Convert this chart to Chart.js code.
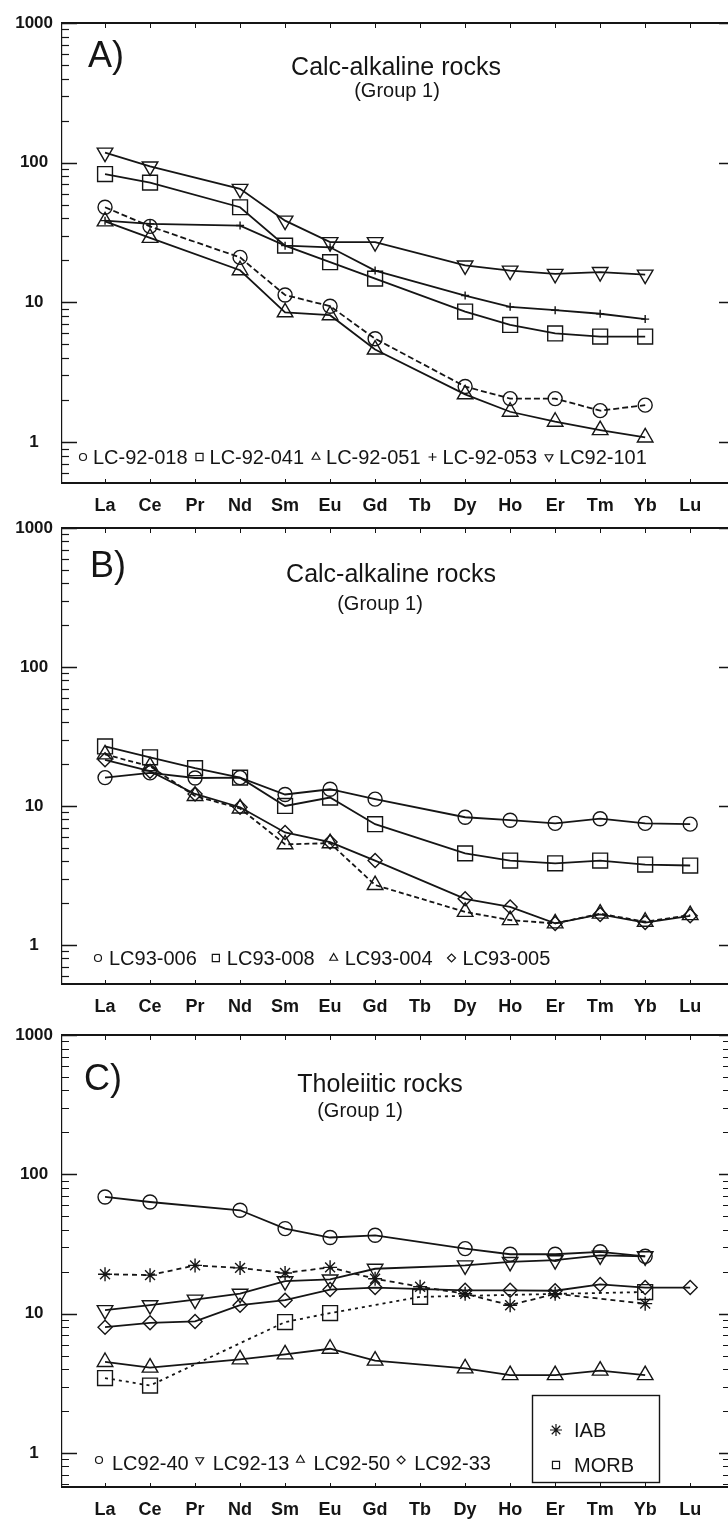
<!DOCTYPE html>
<html><head><meta charset="utf-8">
<script src="https://cdn.jsdelivr.net/npm/chart.js@4.4.1/dist/chart.umd.min.js"></script>
<style>
html,body{margin:0;padding:0;background:#fff;}
#wrap{position:relative;width:728px;height:1528px;overflow:hidden;background:#fff;}
canvas{position:absolute;left:0;}
</style></head><body>
<div id="wrap">
<canvas id="cA" width="728" height="515" style="top:0px"></canvas>
<canvas id="cB" width="728" height="515" style="top:505px"></canvas>
<canvas id="cC" width="728" height="518" style="top:1010px"></canvas>
</div>
<script>
// ---- categories ----
const elements = ['La','Ce','Pr','Nd','Sm','Eu','Gd','Tb','Dy','Ho','Er','Tm','Yb','Lu'];
const yTickLabels = ['1','10','100','1000'];

// ---- Panel A: Calc-alkaline rocks ----
const labelsA = ['LC-92-018','LC-92-041','LC-92-051','LC-92-053','LC92-101'];
const a_LC92_018 = [48, 35, null, 21, 11.3, 9.4, 5.5, null, 2.5, 2.05, 2.05, 1.68, 1.84, null];
const a_LC92_041 = [83, 72, null, 48, 25.5, 19.4, 14.8, null, 8.6, 6.9, 6.0, 5.7, 5.7, null];
const a_LC92_051 = [38, 29, null, 17, 8.5, 8.1, 4.6, null, 2.2, 1.65, 1.4, 1.22, 1.08, null];
const a_LC92_053 = [38.5, 36.5, null, 35.5, 25.5, 24.8, 16.9, null, 11.2, 9.3, 8.8, 8.3, 7.6, null];
const a_LC92_101 = [118, 94, null, 65, 38.5, 27, 27, null, 18.4, 16.9, 16, 16.5, 15.8, null];

// ---- Panel B: Calc-alkaline rocks ----
const labelsB = ['LC93-006','LC93-008','LC93-004','LC93-005'];
const b_LC93_006 = [16, 17.3, 15.9, 16, 12.1, 13.2, 11.2, null, 8.3, 7.9, 7.5, 8.1, 7.5, 7.4];
const b_LC93_008 = [26.8, 22.4, 18.7, 16, 10, 11.5, 7.4, null, 4.56, 4.05, 3.87, 4.05, 3.79, 3.73];
const b_LC93_004 = [23.5, 19.3, 11.8, 9.6, 5.3, 5.4, 2.7, null, 1.73, 1.51, 1.43, 1.68, 1.47, 1.64];
const b_LC93_005 = [21.5, 17.8, 12.2, 9.8, 6.45, 5.5, 4.05, null, 2.15, 1.88, 1.43, 1.66, 1.45, 1.62];

// ---- Panel C: Tholeiitic rocks ----
const labelsC = ['LC92-40','LC92-13','LC92-50','LC92-33'];
const refLabelsC = ['IAB','MORB'];
const c_LC92_40 = [68.8, 63.3, null, 55.2, 40.8, 35.2, 36.5, null, 29.3, 26.7, 26.7, 27.8, 25.8, null];
const c_LC92_13 = [10.6, 11.5, 12.6, 13.9, 17.1, 17.6, 21.0, null, 22.2, 23.5, 24.2, 26.2, 25.8, null];
const c_LC92_50 = [4.5, 4.1, null, 4.7, 5.1, 5.6, 4.6, null, 4.05, 3.62, 3.62, 3.9, 3.62, null];
const c_LC92_33 = [8.0, 8.6, 8.8, 11.5, 12.5, 14.9, 15.4, null, 14.7, 14.7, 14.6, 16.2, 15.4, 15.4];
const c_IAB     = [19.2, 18.9, 22.2, 21.3, 19.6, 21.5, 17.8, 15.6, 13.9, 11.5, 13.9, null, 11.8, null];
const c_MORB    = [3.45, 3.05, null, null, 8.7, 10.1, null, 13.2, null, null, null, null, 14.3, null];

const INK = '#151515';
const FONT = "'Liberation Sans', Arial, Helvetica, sans-serif";

const STY = {
  circle:  {pointStyle:'circle', pointRadius:7, pointRotation:0, legendR:3.5},
  square:  {pointStyle:'rect', pointRadius:10.5, pointRotation:0, legendR:5},
  tri:     {pointStyle:'triangle', pointRadius:9, pointRotation:0, legendR:4.5},
  itri:    {pointStyle:'triangle', pointRadius:9, pointRotation:180, legendR:4.5},
  plus:    {pointStyle:'cross', pointRadius:4, pointRotation:0, legendR:4},
  diamond: {pointStyle:'rectRot', pointRadius:7, pointRotation:0, legendR:4},
  star:    {pointStyle:'star', pointRadius:7, pointRotation:0, legendR:6},
};

function ds(label, arr, sty, dash) {
  const s = STY[sty];
  return {
    label,
    data: elements.map((e, i) => ({x: i, y: arr[i]})),
    borderColor: INK, borderWidth: 1.8, borderDash: dash || [],
    pointStyle: s.pointStyle, pointRadius: s.pointRadius, pointRotation: s.pointRotation,
    pointBorderColor: INK, pointBackgroundColor: 'rgba(0,0,0,0)', pointBorderWidth: 1.4,
    pointHoverRadius: s.pointRadius,
    spanGaps: true, tension: 0, fill: false, clip: false,
    _legendR: s.legendR
  };
}

const deco = {
  id: 'panelDeco',
  afterDraw(chart, args, o) {
    const ctx = chart.ctx, ca = chart.chartArea, xs = chart.scales.x, ys = chart.scales.y;
    ctx.save();
    ctx.strokeStyle = INK; ctx.fillStyle = INK;
    // top frame line
    ctx.lineWidth = 2;
    ctx.beginPath(); ctx.moveTo(ca.left, ca.top); ctx.lineTo(ca.right, ca.top); ctx.stroke();
    // category ticks on top and bottom
    ctx.lineWidth = 1;
    for (let i = 0; i < elements.length; i++) {
      const px = Math.round(xs.getPixelForValue(i)) + 0.5;
      ctx.beginPath();
      ctx.moveTo(px, ca.top); ctx.lineTo(px, ca.top + 5);
      ctx.moveTo(px, ca.bottom); ctx.lineTo(px, ca.bottom - 4);
      ctx.stroke();
    }
    // log ticks left (all) and right (major, optionally minor)
    for (let k = -1; k <= 3; k++) {
      for (let m = 1; m <= 9; m++) {
        const v = m * Math.pow(10, k);
        if (v < ys.min * 0.999 || v > ys.max * 1.001) continue;
        const py = Math.round(ys.getPixelForValue(v)) + 0.5;
        const major = m === 1;
        ctx.lineWidth = major ? 1.6 : 1.2;
        ctx.beginPath();
        ctx.moveTo(ca.left, py); ctx.lineTo(ca.left + (major ? 15 : 7), py);
        if (major || o.rightMinor) { ctx.moveTo(ca.right, py); ctx.lineTo(ca.right - (major ? 9 : 5), py); }
        ctx.stroke();
      }
    }
    // panel letter, title, subtitle
    ctx.textBaseline = 'alphabetic';
    ctx.textAlign = 'left';
    ctx.font = '36px ' + FONT;
    ctx.fillText(o.letter, o.letterPos[0], o.letterPos[1]);
    ctx.textAlign = 'center';
    ctx.font = '25px ' + FONT;
    ctx.fillText(o.title, o.titlePos[0], o.titlePos[1]);
    ctx.font = '20px ' + FONT;
    ctx.fillText(o.sub, o.subPos[0], o.subPos[1]);
    // in-plot legend of samples
    ctx.textAlign = 'left'; ctx.textBaseline = 'middle';
    ctx.font = '20px ' + FONT;
    let xText = o.legendStart;
    const dsets = chart.data.datasets.slice(0, o.legendCount);
    dsets.forEach(d => {
      ctx.lineWidth = 1.2;
      ctx.fillStyle = 'rgba(0,0,0,0)';
      Chart.helpers.drawPoint(ctx, {pointStyle: d.pointStyle, rotation: d.pointRotation, radius: d._legendR, borderWidth: 1.2}, xText - o.symOffset, o.legendY + (o.symDy || 0));
      ctx.fillStyle = INK;
      ctx.fillText(d.label, xText, o.legendY + 1);
      xText += ctx.measureText(d.label).width + o.legendGap;
    });
    // reference box (IAB / MORB)
    if (o.box) {
      const b = o.box;
      ctx.lineWidth = 1.4;
      ctx.strokeRect(b.x + 0.5, b.y + 0.5, b.w, b.h);
      const refs = chart.data.datasets.slice(o.legendCount);
      refs.forEach((d, j) => {
        const yy = b.rows[j];
        ctx.fillStyle = 'rgba(0,0,0,0)';
        ctx.lineWidth = 1.2;
        Chart.helpers.drawPoint(ctx, {pointStyle: d.pointStyle, rotation: 0, radius: d._legendR, borderWidth: 1.2}, b.symX, yy);
        ctx.fillStyle = INK;
        ctx.font = '20px ' + FONT;
        ctx.fillText(d.label, b.textX, yy + 1);
      });
    }
    ctx.restore();
  }
};

function makeChart(id, H, top, bottom, ymin, datasets, decoOpts) {
  const isDecade = v => Math.abs(Math.log10(v) - Math.round(Math.log10(v))) < 1e-6;
  return new Chart(document.getElementById(id), {
    type: 'line',
    data: {datasets},
    options: {
      responsive: false, animation: false, devicePixelRatio: 1,
      events: [],
      layout: {autoPadding: false, padding: {top: top, left: 0, right: 0, bottom: 0}},
      plugins: {legend: {display: false}, tooltip: {enabled: false}, title: {display: false}, panelDeco: decoOpts},
      scales: {
        x: {
          type: 'linear', min: -0.956, max: 13.84, position: 'bottom',
          afterFit: s => { s.height = H - bottom; },
          grid: {display: false, drawTicks: true, tickLength: 12},
          border: {display: true, width: 2, color: INK},
          ticks: {
            stepSize: 1, includeBounds: false, autoSkip: false, maxRotation: 0, minRotation: 0,
            padding: 0, color: INK, font: {family: FONT, size: 18, weight: 'bold'},
            callback: v => (Number.isInteger(v) && v >= 0 && v < elements.length) ? elements[v] : ''
          }
        },
        y: {
          type: 'logarithmic', min: ymin, max: 1000, position: 'left',
          afterFit: s => { s.width = 62; },
          grid: {display: false, drawTicks: false},
          border: {display: true, width: 1.2, color: INK},
          ticks: {
            autoSkip: false, crossAlign: 'center', padding: 9, color: INK,
            font: {family: FONT, size: 17, weight: 'bold'},
            callback: v => (isDecade(v) && yTickLabels.includes(String(Math.round(v)))) ? String(Math.round(v)) : ''
          }
        }
      }
    },
    plugins: [deco]
  });
}

makeChart('cA', 515, 23, 483, 0.51, [
  ds(labelsA[0], a_LC92_018, 'circle', [6, 3]),
  ds(labelsA[1], a_LC92_041, 'square'),
  ds(labelsA[2], a_LC92_051, 'tri'),
  ds(labelsA[3], a_LC92_053, 'plus'),
  ds(labelsA[4], a_LC92_101, 'itri'),
], {letter: 'A)', letterPos: [88, 67], title: 'Calc-alkaline rocks', titlePos: [396, 75],
    sub: '(Group 1)', subPos: [397, 97], legendY: 457, legendStart: 93, legendGap: 22, symOffset: 10,
    legendCount: 5, rightMinor: false});

makeChart('cB', 515, 23, 479, 0.524, [
  ds(labelsB[0], b_LC93_006, 'circle'),
  ds(labelsB[1], b_LC93_008, 'square'),
  ds(labelsB[2], b_LC93_004, 'tri', [5, 3]),
  ds(labelsB[3], b_LC93_005, 'diamond'),
], {letter: 'B)', letterPos: [90, 72], title: 'Calc-alkaline rocks', titlePos: [391, 77],
    sub: '(Group 1)', subPos: [380, 105], legendY: 453, legendStart: 109, legendGap: 30, symOffset: 11,
    legendCount: 4, rightMinor: false});

makeChart('cC', 518, 25, 477, 0.57, [
  ds(labelsC[0], c_LC92_40, 'circle'),
  ds(labelsC[1], c_LC92_13, 'itri'),
  ds(labelsC[2], c_LC92_50, 'tri'),
  ds(labelsC[3], c_LC92_33, 'diamond'),
  ds(refLabelsC[0], c_IAB, 'star', [5, 4]),
  ds(refLabelsC[1], c_MORB, 'square', [3, 4]),
], {letter: 'C)', letterPos: [84, 80], title: 'Tholeiitic rocks', titlePos: [380, 82],
    sub: '(Group 1)', subPos: [360, 107], legendY: 453, legendStart: 112, legendGap: 24, symOffset: 13, symDy: -3,
    legendCount: 4, rightMinor: true,
    box: {x: 532, y: 385, w: 127, h: 87, symX: 556, textX: 574, rows: [420, 455]}});
</script>
</body></html>
